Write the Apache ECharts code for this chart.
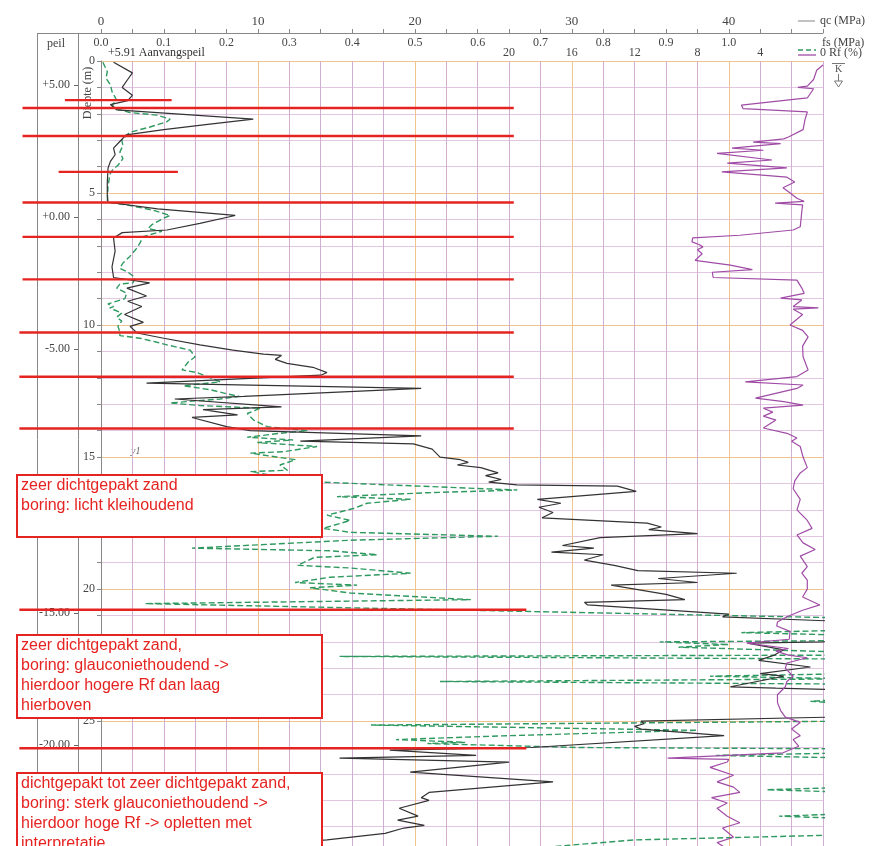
<!DOCTYPE html>
<html><head><meta charset="utf-8">
<script src="https://cdn.jsdelivr.net/npm/echarts@6/dist/echarts.min.js"></script>
<style>html,body{margin:0;padding:0;background:#fff}#c{width:872px;height:846px}</style>
</head><body><div id="c"></div>
<script>
// ---------- data ----------
const startLevel = 5.91;          // Aanvangspeil (m)
const depthMax = 29.73;           // visible depth (m)
const qcMax = 46, fsMax = 1.15, rfMax = 46;
const depthLabelStep = 5;
const peilTicks = [5, 0, -5, -10, -15, -20];
const qcLabels = [0, 10, 20, 30, 40];
const fsLabels = [0.0, 0.1, 0.2, 0.3, 0.4, 0.5, 0.6, 0.7, 0.8, 0.9, 1.0];
const rfLabels = [20, 16, 12, 8, 4, 0];

// [depth (m), qc (MPa)]
const qcProfile = [
[0.05,0.8],[0.45,2.0],[0.7,1.7],[1.0,1.35],[1.3,2.0],[1.5,1.7],[1.65,0.6],[1.85,1.0],[2.2,9.7],[2.4,6.8],
[2.6,4.0],[2.8,1.6],[3.05,1.2],[3.3,0.8],[3.55,0.9],[3.8,0.6],[4.05,0.45],[4.6,0.4],[5.1,0.4],[5.35,0.45],
[5.6,3.6],[5.85,8.55],[6.15,6.3],[6.4,4.2],[6.5,1.35],[6.7,0.8],[7.2,0.9],[7.8,0.7],[8.2,0.8],[8.4,3.1],
[8.6,1.65],[8.9,2.9],[9.1,1.7],[9.3,2.6],[9.6,1.5],[9.9,2.7],[10.05,1.85],[10.3,2.3],[10.5,4.0],[10.75,6.3],
[10.95,8.4],[11.1,10.35],[11.15,11.5],[11.3,11.1],[11.45,11.85],[11.6,13.5],[11.8,14.4],[11.9,14.0],[12.2,2.9],[12.4,20.4],
[12.7,9.1],[12.8,4.7],[13.1,11.5],[13.2,6.5],[13.4,8.7],[13.5,5.8],[13.85,8.0],[14.0,9.5],[14.2,20.4],[14.4,12.7],
[14.5,19.9],[14.7,21.1],[15.0,21.6],[15.1,22.9],[15.2,23.4],[15.3,22.7],[15.4,24.2],[15.6,25.3],[15.7,24.5],[15.85,25.5],
[15.95,24.7],[16.05,26.5],[16.1,32.9],[16.3,34.1],[16.6,27.8],[16.75,29.3],[16.9,27.9],[17.1,28.8],[17.3,28.1],[17.5,34.8],
[17.65,35.7],[17.75,34.9],[17.9,38.0],[18.05,31.8],[18.35,29.4],[18.45,31.4],[18.6,28.7],[18.7,32.0],[18.9,30.8],[19.1,32.7],
[19.3,34.2],[19.4,40.5],[19.6,35.5],[19.75,38.0],[19.85,32.5],[20.2,36.0],[20.4,37.2],[20.5,30.8],[20.6,31.0],[20.95,40.0],
[21.05,39.6],[21.2,46.2],[21.3,48],[21.9,48],[22.0,46],[22.05,41.2],[22.3,43.5],[22.5,42.9],[22.7,41.9],[22.95,45.2],
[23.2,42.0],[23.3,43.5],[23.7,40.1],[23.75,43.0],[23.8,46.5],[23.9,48],[24.75,48],[24.85,46.5],[25.0,34.4],[25.1,34.6],
[25.2,34.0],[25.3,34.4],[25.55,39.7],[26.0,27.4],[26.1,18.4],[26.3,23.9],[26.4,15.2],[26.55,26.0],[26.93,19.7],[27.3,28.8],
[27.7,20.9],[27.9,20.4],[28.0,20.9],[28.3,19.0],[28.6,20.2],[28.75,18.9],[28.95,20.6],[29.05,19.3],[29.25,18.1],[29.5,14.4],
[29.75,8.9]
];

// [depth (m), fs (MPa)]
const fsProfile = [
[0.05,0.003],[0.4,0.01],[0.65,0.008],[0.9,0.015],[1.2,0.018],[1.35,0.022],[1.5,0.025],[1.65,0.018],[1.8,0.022],[1.95,0.046],
[2.05,0.089],[2.2,0.11],[2.3,0.105],[2.5,0.078],[2.7,0.046],[2.8,0.041],[3.0,0.033],[3.2,0.035],[3.45,0.03],[3.7,0.035],
[3.95,0.027],[4.1,0.019],[4.3,0.014],[4.8,0.011],[5.35,0.01],[5.45,0.041],[5.65,0.083],[5.85,0.11],[5.95,0.1],[6.2,0.081],
[6.35,0.075],[6.45,0.097],[6.65,0.067],[6.9,0.062],[7.15,0.055],[7.4,0.046],[7.65,0.035],[7.85,0.03],[8.0,0.043],[8.2,0.054],
[8.4,0.051],[8.45,0.03],[8.6,0.025],[8.8,0.041],[9.0,0.038],[9.2,0.011],[9.3,0.02],[9.35,0.014],[9.55,0.033],[9.7,0.025],
[9.85,0.033],[10.05,0.027],[10.25,0.03],[10.4,0.03],[10.5,0.062],[10.65,0.089],[10.75,0.105],[10.95,0.142],[11.2,0.15],[11.4,0.139],
[11.7,0.129],[11.8,0.153],[11.95,0.169],[12.15,0.19],[12.3,0.131],[12.45,0.174],[12.6,0.2],[12.7,0.22],[12.8,0.19],[12.95,0.11],
[13.05,0.158],[13.15,0.254],[13.35,0.233],[13.6,0.243],[13.85,0.265],[14.0,0.329],[14.1,0.285],[14.25,0.233],[14.35,0.306],[14.45,0.249],
[14.6,0.344],[14.8,0.29],[14.85,0.238],[15.0,0.28],[15.1,0.31],[15.3,0.285],[15.5,0.297],[15.55,0.238],[15.8,0.3],[15.95,0.35],
[16.25,0.663],[16.35,0.52],[16.5,0.376],[16.6,0.493],[16.75,0.424],[16.95,0.402],[17.2,0.36],[17.4,0.397],[17.7,0.354],[17.85,0.397],
[18.0,0.632],[18.15,0.397],[18.45,0.145],[18.55,0.366],[18.7,0.44],[18.8,0.34],[19.1,0.313],[19.2,0.397],[19.4,0.493],[19.55,0.365],
[19.75,0.309],[19.85,0.408],[19.95,0.333],[20.15,0.397],[20.4,0.589],[20.55,0.07],[21.1,1.2],[21.55,1.2],[21.65,1.02],[21.75,1.2],
[21.95,1.2],[22.0,0.89],[22.1,1.0],[22.2,0.92],[22.4,1.2],[22.5,1.2],[22.55,0.38],[22.65,1.2],[23.2,1.2],[23.3,0.97],
[23.4,1.2],[23.45,1.2],[23.5,0.54],[23.6,1.2],[24.15,1.2],[24.25,1.13],[24.35,1.2],[25.0,1.2],[25.15,0.43],[25.35,0.95],
[25.55,0.65],[25.7,0.47],[25.8,0.58],[25.85,0.52],[26.0,0.76],[26.05,1.2],[26.2,1.2],[26.3,0.98],[26.4,1.2],[27.5,1.2],
[27.6,1.06],[27.7,1.2],[28.5,1.2],[28.6,1.08],[28.7,1.2],[29.3,1.2],[29.5,0.85],[29.75,0.72]
];

// [depth (m), Rf (%)]
const rfProfile = [
[0.15,0.0],[0.35,0.4],[0.7,0.6],[0.95,1.0],[1.0,1.6],[1.05,0.6],[1.1,0.5],[1.4,1.0],[1.67,5.2],[1.8,5.1],
[1.93,1.0],[2.23,1.15],[2.6,1.27],[2.88,2.2],[2.95,2.5],[3.07,4.45],[3.13,2.7],[3.3,5.8],[3.38,3.8],[3.5,6.75],
[3.75,3.25],[3.87,6.1],[4.05,2.3],[4.2,6.45],[4.4,2.3],[4.58,1.8],[4.8,2.55],[4.95,2.2],[5.2,1.66],[5.32,1.2],
[5.38,3.05],[5.45,1.3],[5.7,1.35],[6.28,1.45],[6.4,1.9],[6.6,5.3],[6.7,8.3],[6.85,8.35],[6.95,7.9],[7.04,7.65],
[7.15,8.0],[7.3,7.7],[7.55,8.15],[7.73,5.9],[7.9,4.5],[8.0,7.05],[8.2,7.0],[8.3,1.66],[8.6,1.35],[8.8,1.2],
[8.98,2.7],[9.05,1.35],[9.3,1.9],[9.35,0.3],[9.4,1.9],[9.6,1.3],[10.0,2.1],[10.2,1.3],[10.45,0.95],[10.8,1.3],
[11.2,1.27],[11.7,0.95],[11.95,1.66],[12.15,4.95],[12.27,1.27],[12.4,1.66],[12.77,4.3],[12.9,2.5],[13.03,1.27],[13.15,3.8],
[13.3,3.2],[13.45,3.8],[13.6,3.0],[13.9,3.8],[14.1,2.3],[14.28,1.66],[14.4,2.0],[14.6,1.45],[15.0,1.27],[15.4,1.0],
[15.6,1.45],[15.9,1.8],[16.2,1.9],[16.6,1.45],[17.0,1.66],[17.4,1.0],[17.7,0.7],[17.95,1.66],[18.25,1.27],[18.5,0.5],
[18.75,1.45],[19.15,1.0],[19.4,1.35],[19.66,1.0],[20.0,1.0],[20.3,1.3],[20.6,0.2],[20.8,1.3],[21.05,2.3],[21.25,2.9],
[21.4,2.95],[21.6,2.1],[21.9,2.15],[22.05,4.85],[22.25,2.2],[22.35,3.0],[22.5,2.2],[22.6,1.0],[22.8,2.3],[23.0,2.4],
[23.3,1.9],[23.5,2.3],[23.7,2.4],[24.0,2.9],[24.3,2.9],[24.6,2.7],[24.85,2.4],[25.05,1.45],[25.3,2.0],[25.55,1.45],
[25.7,1.9],[25.95,1.55],[26.2,2.55],[26.4,9.9],[26.45,6.0],[26.55,6.1],[26.75,7.2],[27.05,5.7],[27.3,6.75],[27.5,5.7],
[27.7,5.3],[27.9,7.1],[28.1,6.1],[28.3,6.75],[28.6,6.1],[28.85,5.3],[29.05,6.4],[29.4,5.7],[29.6,6.75],[29.8,6.2]
];

// hand-drawn layer boundaries: depth (m), extent in qc units
const redDepth = [1.48, 1.78, 2.84, 4.2, 5.36, 6.66, 8.27, 10.28, 11.96, 13.92, 20.78, 26.03];
const redFrom  = [-2.3, -5.0, -5.0, -2.7, -5.0, -5.0, -5.0, -5.2, -5.2, -5.2, -5.2, -5.2];
const redTo    = [4.5, 26.3, 26.3, 4.9, 26.3, 26.3, 26.3, 26.3, 26.3, 26.3, 27.1, 27.1];

const notes = [
  'zeer dichtgepakt zand\nboring: licht kleihoudend',
  'zeer dichtgepakt zand,\nboring: glauconiethoudend ->\nhierdoor hogere Rf dan laag\nhierboven',
  'dichtgepakt tot zeer dichtgepakt zand,\nboring: sterk glauconiethoudend ->\nhierdoor hoge Rf -> opletten met\ninterpretatie'
];

// ---------- chart ----------
const W = 872, PLOT_L = 101, PLOT_R = 823;
const SERIF = '"Liberation Serif", "DejaVu Serif", serif';
const SANS = '"Liberation Sans", Arial, sans-serif';
const minorV = '#d2aed2', minorH = '#e2c6e2', major = '#efc48f';
const RED = '#e52421';
const chart = echarts.init(document.getElementById('c'), null, {renderer: 'canvas'});

const near = (v, arr, eps) => arr.some(a => Math.abs(a - v) < eps);
// full-width overlay axis in qc units (same scale as the plot's qc axis)
const qcPerPx = qcMax / (PLOT_R - PLOT_L);
const overlayMin = -PLOT_L * qcPerPx, overlayMax = (W - PLOT_L) * qcPerPx;

const series = [
  {type: 'line', name: 'fs', xAxisIndex: 1, yAxisIndex: 0, data: fsProfile.map(p => [p[1], p[0]]),
   showSymbol: false, lineStyle: {color: '#2f9960', width: 1.4, type: [6, 3]}, z: 3},
  {type: 'line', name: 'qc', xAxisIndex: 0, yAxisIndex: 0, data: qcProfile.map(p => [p[1], p[0]]),
   showSymbol: false, lineStyle: {color: '#333333', width: 1.2}, z: 4},
  {type: 'line', name: 'Rf', xAxisIndex: 2, yAxisIndex: 0, data: rfProfile.map(p => [p[1], p[0]]),
   showSymbol: false, lineStyle: {color: '#a04ca6', width: 1.2}, z: 4}
];
redDepth.forEach((d, i) => series.push({
  type: 'line', xAxisIndex: 3, yAxisIndex: 2, silent: true,
  data: [[redFrom[i], d], [redTo[i], d]], showSymbol: false,
  lineStyle: {color: RED, width: 2.4}, z: 6
}));

const boxes = [
  {y: 475, h: 62}, {y: 635, h: 83}, {y: 773, h: 90}
];
const graphics = [
  {type: 'line', shape: {x1: 37, y1: 33.5, x2: 101, y2: 33.5}, style: {stroke: '#888', lineWidth: 1}},
  {type: 'line', shape: {x1: 37.5, y1: 33, x2: 37.5, y2: 846}, style: {stroke: '#888', lineWidth: 1}},
  {type: 'line', shape: {x1: 78.5, y1: 33, x2: 78.5, y2: 846}, style: {stroke: '#888', lineWidth: 1}},
  {type: 'text', x: 56, y: 44, style: {text: 'peil', font: '12px ' + SERIF, fill: '#444', align: 'center', verticalAlign: 'middle'}},
  {type: 'text', x: 108, y: 53, style: {text: '+5.91 Aanvangspeil', font: '12px ' + SERIF, fill: '#333', verticalAlign: 'middle'}},
  {type: 'text', x: 88, y: 93, rotation: Math.PI / 2, style: {text: 'Diepte (m)', font: '12px ' + SERIF, fill: '#444', align: 'center', verticalAlign: 'middle'}},
  {type: 'text', x: 131, y: 451, style: {text: 'y1', font: 'italic 10px ' + SERIF, fill: '#666', verticalAlign: 'middle'}},
  // legend
  {type: 'line', shape: {x1: 798, y1: 21, x2: 815, y2: 21}, style: {stroke: '#999', lineWidth: 1.2}},
  {type: 'text', x: 820, y: 21, style: {text: 'qc (MPa)', font: '12px ' + SERIF, fill: '#444', verticalAlign: 'middle'}},
  {type: 'line', shape: {x1: 798, y1: 50, x2: 816, y2: 50}, style: {stroke: '#2f9960', lineWidth: 1.3, lineDash: [5, 3]}},
  {type: 'text', x: 822, y: 43, style: {text: 'fs (MPa)', font: '12px ' + SERIF, fill: '#444', verticalAlign: 'middle'}},
  {type: 'line', shape: {x1: 798, y1: 55, x2: 816, y2: 55}, style: {stroke: '#a04ca6', lineWidth: 1.3}},
  {type: 'text', x: 829, y: 53, style: {text: 'Rf (%)', font: '12px ' + SERIF, fill: '#444', verticalAlign: 'middle'}},
  // K marker
  {type: 'line', shape: {x1: 832, y1: 63.5, x2: 845, y2: 63.5}, style: {stroke: '#777', lineWidth: 1}},
  {type: 'text', x: 838.5, y: 69, style: {text: 'K', font: '10px ' + SERIF, fill: '#555', align: 'center', verticalAlign: 'middle'}},
  {type: 'line', shape: {x1: 838.5, y1: 74, x2: 838.5, y2: 81}, style: {stroke: '#777', lineWidth: 1}},
  {type: 'polygon', shape: {points: [[834.5, 81], [842.5, 81], [838.5, 87]]}, style: {fill: '#fff', stroke: '#777', lineWidth: 1}}
];
boxes.forEach((b, i) => {
  graphics.push({type: 'rect', z: 100, shape: {x: 17, y: b.y, width: 305, height: b.h},
    style: {fill: '#fff', stroke: RED, lineWidth: 2}});
  graphics.push({type: 'text', z: 101, x: 21, y: b.y + 1,
    style: {text: notes[i], font: '16px ' + SANS, fill: RED, lineHeight: 20}});
});

const option = {
  animation: false,
  backgroundColor: '#fff',
  grid: [
    {left: PLOT_L, right: W - PLOT_R, top: 61, bottom: 0, containLabel: false},
    {left: 0, right: 0, top: 61, bottom: 0, containLabel: false}
  ],
  xAxis: [
    {type: 'value', gridIndex: 0, position: 'top', offset: 28, min: 0, max: qcMax, interval: 2,
     axisLine: {show: true, onZero: false, lineStyle: {color: '#888'}},
     axisTick: {show: true, length: 4, lineStyle: {color: '#888'}},
     axisLabel: {margin: 5, color: '#444', fontFamily: SERIF, fontSize: 13,
       formatter: v => near(v, qcLabels, 1e-6) ? String(Math.round(v)) : ''},
     splitLine: {show: true, lineStyle: {color: [major, minorV, minorV, minorV, minorV], width: 1}}},
    {type: 'value', gridIndex: 0, position: 'top', offset: 28, min: 0, max: fsMax, interval: 0.05,
     axisLine: {show: false, onZero: false}, axisTick: {show: false}, splitLine: {show: false},
     axisLabel: {inside: true, margin: 4, color: '#444', fontFamily: SERIF, fontSize: 12,
       formatter: v => near(v, fsLabels, 1e-6) ? v.toFixed(1) : ''}},
    {type: 'value', gridIndex: 0, position: 'top', offset: 28, min: 0, max: rfMax, interval: 4, inverse: true,
     axisLine: {show: false, onZero: false}, axisTick: {show: false}, splitLine: {show: false},
     axisLabel: {inside: true, margin: 14, color: '#444', fontFamily: SERIF, fontSize: 12, showMaxLabel: false,
       formatter: v => near(v, rfLabels, 1e-6) ? String(Math.round(v)) : ''}},
    {type: 'value', gridIndex: 1, min: overlayMin, max: overlayMax, show: false}
  ],
  yAxis: [
    {type: 'value', gridIndex: 0, inverse: true, min: 0, max: depthMax, interval: 1, position: 'left',
     axisLine: {show: true, onZero: false, lineStyle: {color: '#888'}},
     axisTick: {show: true, length: 4, lineStyle: {color: '#888'}},
     axisLabel: {margin: 6, color: '#444', fontFamily: SERIF, fontSize: 12, showMaxLabel: false,
       formatter: v => (Math.abs(v / depthLabelStep - Math.round(v / depthLabelStep)) < 1e-6) ? String(Math.round(v)) : ''},
     splitLine: {show: true, lineStyle: {color: [major, minorH, minorH, minorH, minorH], width: 1}}},
    {type: 'value', gridIndex: 0, inverse: true, min: 0, max: depthMax, position: 'left', offset: 23,
     axisLine: {show: false, onZero: false},
     axisTick: {show: true, length: 4, lineStyle: {color: '#666'}, customValues: peilTicks.map(p => +(startLevel - p).toFixed(2))},
     axisLabel: {margin: 8, color: '#444', fontFamily: SERIF, fontSize: 12,
       customValues: peilTicks.map(p => +(startLevel - p).toFixed(2)),
       formatter: v => { const p = Math.round((startLevel - v) * 100) / 100; return (p >= 0 ? '+' : '') + p.toFixed(2); }},
     splitLine: {show: false}},
    {type: 'value', gridIndex: 1, inverse: true, min: 0, max: depthMax, show: false}
  ],
  series: series,
  graphic: graphics
};
chart.setOption(option);
</script>
</body></html>
